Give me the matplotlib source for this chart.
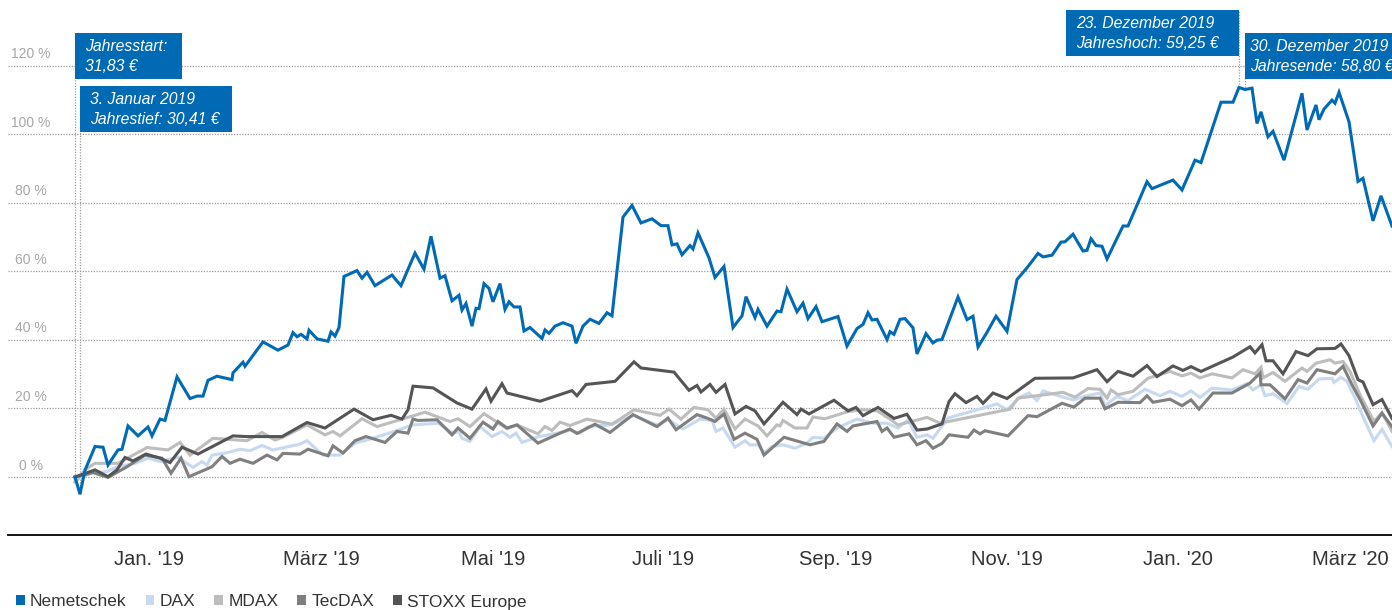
import matplotlib
matplotlib.use("Agg")
import matplotlib.pyplot as plt
from matplotlib.patches import Patch, Rectangle

plt.rcParams['font.family'] = ['Liberation Sans', 'DejaVu Sans']

# time index: 0 = start of 2019, one step is roughly three calendar days
nem_t = [0, 0.5, 1.0, 2.0, 2.8, 3.3, 4.3, 4.7, 5.3, 6.3,
         7.3, 7.7, 8.5, 9.0, 10.2, 11.5, 12.2, 12.8, 13.3, 14.2,
         15.7, 15.8, 16.8, 17.0, 18.8, 20.3, 21.3, 21.8, 22.2, 22.6,
         23.2, 23.4, 24.2, 25.3, 25.6, 26.0, 26.4, 26.9, 28.2, 28.7,
         29.2, 30.0, 31.7, 32.6, 34.0, 34.9, 35.6, 36.5, 37.0, 37.7,
         38.4, 38.7, 39.1, 39.7, 40.1, 40.4, 40.9, 41.4, 41.8, 42.5,
         43.0, 43.4, 43.9, 44.5, 44.9, 45.5, 46.7, 47.0, 47.4, 48.0,
         48.8, 49.7, 50.1, 50.8, 51.5, 52.4, 53.2, 53.7, 54.8, 55.7,
         56.6, 57.7, 58.6, 59.3, 59.7, 60.2, 60.7, 61.5, 61.8, 62.3,
         63.4, 64.0, 64.9, 65.8, 66.7, 67.1, 68.0, 68.3, 69.2, 70.2,
         70.6, 71.2, 72.2, 72.8, 73.3, 74.1, 74.7, 76.3, 77.2, 78.2,
         78.8, 79.3, 79.7, 80.2, 81.2, 81.5, 81.9, 82.5, 83.0, 83.8,
         84.2, 85.1, 85.8, 86.2, 86.7, 88.3, 89.2, 89.8, 90.3, 91.2,
         92.1, 93.2, 94.2, 95.2, 96.3, 96.8, 97.7, 98.6, 99.0, 99.8,
         100.8, 101.2, 101.6, 102.1, 102.7, 103.2, 104.8, 105.3, 107.2, 107.7,
         109.8, 110.7, 112.0, 112.6, 114.6, 115.8, 116.4, 117.0, 117.7, 118.2,
         118.6, 119.3, 119.8, 120.9, 122.7, 123.2, 124.1, 124.4, 124.9, 125.7,
         126.0, 126.4, 127.4, 128.3, 128.8, 129.8, 130.6, 131.7]
nem_v = [0, -5.0, 2.0, 8.9, 8.7, 3.5, 7.9, 8.1, 14.9, 12.0,
         14.6, 12.0, 16.9, 16.5, 29.2, 22.9, 23.6, 23.6, 28.2, 29.4,
         28.4, 30.4, 33.5, 32.3, 39.4, 37.0, 38.5, 42.1, 40.9, 41.6,
         40.3, 42.8, 40.3, 39.6, 42.3, 41.1, 43.6, 58.5, 60.2, 58.0,
         59.7, 55.8, 58.9, 55.8, 65.3, 60.6, 70.2, 58.0, 58.7, 51.4,
         53.0, 48.7, 50.6, 44.0, 49.2, 49.1, 56.4, 55.0, 51.1, 56.4,
         48.9, 51.1, 49.6, 49.6, 42.6, 43.6, 40.4, 42.9, 41.9, 44.0,
         45.0, 44.0, 39.0, 44.0, 46.0, 44.8, 47.9, 47.0, 75.8, 79.2,
         74.1, 75.3, 73.3, 73.3, 67.7, 68.0, 64.8, 67.5, 66.5, 71.2,
         63.9, 58.2, 61.4, 43.6, 47.0, 52.6, 46.5, 48.9, 44.0, 48.4,
         48.2, 54.8, 48.2, 50.7, 46.2, 49.7, 45.3, 46.8, 38.2, 43.3,
         44.5, 47.9, 45.8, 46.0, 40.1, 42.4, 41.6, 46.0, 46.2, 43.5,
         35.9, 41.8, 39.1, 39.9, 40.1, 52.5, 45.9, 46.9, 37.9, 42.2,
         46.9, 42.5, 57.6, 61.0, 65.2, 64.2, 64.7, 68.5, 68.6, 70.8,
         65.9, 66.1, 69.5, 67.5, 67.3, 63.6, 73.2, 73.2, 86.1, 84.1,
         86.6, 83.7, 92.4, 91.7, 109.3, 109.3, 113.6, 113.0, 113.4, 103.1,
         106.5, 99.2, 100.8, 92.4, 111.9, 101.2, 108.5, 104.2, 107.3, 109.9,
         109.0, 112.2, 103.6, 86.2, 87.1, 74.7, 82.0, 73.2]

dax_t = [0, 1.8, 3.2, 4.2, 6.0, 7.3, 8.5, 10.3, 11.8, 12.7,
         13.2, 13.7, 15.2, 16.5, 17.5, 18.7, 19.8, 22.5, 23.2, 24.8,
         26.5, 28.0, 29.8, 32.2, 33.8, 36.3, 37.8, 38.4, 38.7, 39.5,
         40.5, 41.7, 42.7, 43.5, 44.1, 44.7, 46.4, 48.2, 49.5, 50.5,
         51.3, 53.5, 55.9, 58.2, 59.3, 60.8, 62.5, 63.7, 64.1, 64.8,
         66.0, 67.0, 67.5, 68.3, 68.9, 69.7, 70.8, 72.0, 73.2, 73.8,
         74.9, 76.2, 78.2, 79.8, 81.2, 82.3, 83.3, 84.2, 85.2, 85.8,
         87.3, 92.2, 93.2, 94.5, 95.4, 96.2, 96.8, 98.0, 99.8, 101.2,
         102.5, 103.0, 104.2, 105.3, 107.0, 108.5, 109.5, 110.7, 111.6, 112.5,
         113.7, 115.7, 117.2, 117.8, 118.6, 119.0, 119.8, 121.2, 122.4, 123.3,
         124.4, 125.7, 125.9, 126.6, 127.2, 128.0, 128.8, 129.9, 130.7, 131.7]
dax_v = [-1.0, 1.3, 1.6, 3.0, 4.0, 5.5, 4.5, 5.8, 2.8, 4.5,
         3.5, 6.4, 7.1, 8.1, 7.7, 9.2, 7.9, 9.6, 10.6, 6.4,
         6.4, 9.9, 11.3, 13.6, 15.2, 15.7, 12.8, 13.3, 11.3, 10.4,
         14.7, 11.8, 13.3, 11.6, 12.8, 10.1, 11.8, 12.8, 13.6, 12.8,
         14.7, 15.2, 17.9, 15.2, 16.7, 14.0, 16.9, 16.5, 13.3, 14.3,
         8.7, 10.6, 9.4, 9.4, 7.1, 8.9, 9.4, 8.4, 9.9, 11.6,
         11.3, 14.3, 16.9, 15.7, 15.7, 14.3, 16.7, 11.6, 12.3, 11.3,
         17.2, 21.3, 19.6, 23.3, 24.5, 22.3, 25.1, 24.0, 22.5, 23.7,
         24.5, 20.8, 23.5, 22.3, 25.6, 23.7, 25.0, 23.5, 25.1, 23.2,
         25.9, 25.4, 27.2, 25.4, 26.9, 23.7, 24.3, 21.5, 26.4, 25.6,
         28.6, 28.8, 27.6, 29.1, 27.9, 23.0, 17.6, 10.6, 13.9, 8.9]

mdax_t = [0, 1.0, 2.0, 4.3, 7.2, 9.3, 10.5, 11.5, 13.8, 17.2,
          18.7, 20.0, 20.8, 23.2, 25.0, 25.8, 26.5, 28.7, 30.2, 35.0,
          37.5, 38.3, 39.5, 40.9, 43.2, 44.2, 46.3, 47.0, 47.7, 48.5,
          49.5, 51.2, 53.7, 55.9, 58.5, 59.4, 60.6, 61.9, 63.3, 64.1,
          64.9, 66.0, 67.0, 68.3, 69.2, 70.2, 70.5, 70.8, 72.0, 73.2,
          73.8, 75.0, 77.3, 78.8, 80.2, 81.6, 82.3, 83.4, 85.2, 86.5,
          93.5, 94.3, 98.8, 100.0, 101.3, 102.5, 103.2, 103.6, 104.3, 105.8,
          107.3, 109.5, 110.7, 111.6, 112.5, 113.7, 115.7, 116.8, 118.0, 118.6,
          118.8, 119.8, 121.0, 122.7, 123.2, 124.1, 125.5, 126.0, 126.8, 127.5,
          128.5, 129.9, 130.7, 131.7]
mdax_v = [-1.5, 2.1, 4.0, 4.0, 8.6, 7.9, 10.1, 6.4, 11.3, 10.6,
          13.0, 10.8, 11.6, 15.2, 12.3, 13.3, 12.0, 17.0, 14.7, 18.9,
          16.2, 17.0, 14.7, 18.5, 14.1, 15.2, 12.6, 14.7, 13.6, 16.0,
          15.0, 16.9, 15.4, 19.6, 18.0, 19.8, 16.9, 20.3, 19.6, 17.2,
          19.8, 14.0, 16.9, 14.9, 12.0, 15.2, 14.9, 16.5, 14.3, 14.3,
          17.5, 17.0, 19.1, 19.6, 19.3, 16.7, 15.2, 16.0, 17.4, 15.7,
          19.8, 23.0, 24.7, 23.3, 25.8, 25.6, 23.0, 25.4, 24.0, 25.0,
          28.8, 30.8, 29.5, 30.3, 28.9, 30.1, 28.9, 31.3, 30.1, 32.0,
          28.9, 30.5, 27.9, 31.8, 30.8, 33.2, 34.2, 33.2, 33.7, 30.8,
          24.0, 16.2, 18.8, 13.3]

tec_t = [0, 1.8, 3.3, 5.2, 7.0, 8.7, 9.6, 10.6, 11.4, 13.7,
         14.7, 15.5, 16.5, 17.8, 19.2, 20.2, 20.8, 22.5, 23.3, 25.3,
         25.8, 26.8, 28.0, 29.1, 31.0, 32.2, 33.3, 33.8, 34.3, 36.2,
         37.7, 38.3, 39.5, 40.8, 41.8, 42.3, 43.2, 44.2, 46.3, 48.5,
         49.5, 50.2, 52.0, 53.5, 55.8, 58.2, 59.3, 60.1, 62.2, 63.2,
         64.0, 64.9, 65.9, 67.0, 68.2, 68.9, 70.9, 73.5, 74.9, 76.2,
         77.2, 77.8, 80.2, 80.7, 81.2, 81.9, 83.4, 84.2, 85.1, 85.8,
         86.7, 87.4, 89.3, 89.9, 90.5, 91.0, 93.3, 95.3, 96.2, 98.7,
         99.9, 101.0, 102.5, 103.0, 104.3, 106.5, 107.2, 107.8, 109.5, 110.7,
         111.6, 112.4, 113.8, 115.7, 117.5, 118.5, 118.6, 119.5, 121.0, 122.3,
         123.2, 124.2, 126.0, 126.8, 127.7, 128.7, 129.8, 130.7, 131.7]
tec_v = [0, 1.3, -0.1, 3.0, 6.4, 5.5, 1.1, 5.5, 0.1, 3.0,
         6.0, 4.0, 5.2, 4.0, 6.4, 5.0, 6.9, 6.7, 8.1, 6.2,
         9.1, 7.0, 10.6, 11.8, 10.1, 13.3, 12.8, 16.9, 16.5, 16.7,
         12.3, 14.3, 11.3, 16.0, 14.0, 16.2, 14.3, 15.2, 9.9, 12.8,
         14.0, 12.7, 15.4, 13.0, 18.2, 14.7, 17.2, 13.8, 18.2, 17.2,
         16.2, 18.4, 11.0, 12.8, 11.0, 6.4, 11.6, 9.4, 10.4, 15.5,
         13.3, 14.9, 16.2, 13.3, 14.3, 11.6, 12.6, 9.4, 10.6, 8.4,
         9.8, 12.3, 11.6, 13.7, 12.6, 13.5, 12.0, 17.9, 17.6, 21.5,
         20.4, 23.0, 23.0, 19.9, 21.8, 21.7, 23.7, 21.8, 22.7, 20.8,
         22.5, 19.8, 24.5, 24.5, 27.4, 30.3, 26.9, 26.9, 22.8, 28.4,
         27.4, 31.3, 30.1, 32.3, 26.9, 21.5, 14.9, 18.6, 14.7]

stoxx_t = [0, 2.0, 3.3, 4.2, 5.0, 5.8, 7.1, 8.5, 9.5, 10.7,
           12.3, 15.8, 17.2, 20.7, 23.2, 25.0, 27.9, 29.8, 31.6, 32.7,
           33.3, 33.8, 35.8, 38.2, 39.7, 41.1, 41.6, 42.7, 43.2, 46.5,
           49.7, 50.2, 51.1, 54.0, 55.9, 56.6, 59.9, 61.4, 62.2, 62.6,
           63.5, 64.1, 65.0, 66.0, 67.1, 68.0, 68.9, 70.8, 72.2, 72.6,
           73.4, 75.9, 77.3, 78.1, 78.8, 80.3, 81.9, 83.2, 84.2, 85.2,
           86.7, 87.4, 88.0, 89.1, 90.2, 90.8, 91.8, 93.2, 96.0, 99.8,
           102.2, 103.2, 104.3, 105.8, 107.2, 108.2, 109.8, 110.8, 111.6, 112.6,
           115.8, 117.5, 118.0, 118.7, 119.1, 119.8, 120.8, 122.1, 123.3, 124.2,
           126.0, 126.6, 127.4, 128.3, 128.8, 129.8, 130.7, 131.7]
stoxx_v = [0, 2.1, 0.1, 2.1, 5.7, 4.7, 6.7, 5.5, 4.2, 8.7,
           6.7, 12.0, 11.8, 11.8, 15.9, 14.3, 19.8, 16.7, 18.0, 16.9,
           19.6, 26.5, 26.0, 21.6, 19.8, 25.7, 22.1, 27.2, 24.5, 22.1,
           25.2, 23.7, 27.0, 27.9, 33.6, 31.8, 30.6, 25.3, 26.7, 24.8,
           27.0, 24.7, 27.0, 18.4, 20.6, 19.3, 15.5, 21.8, 18.2, 19.8,
           18.4, 22.4, 19.3, 20.3, 17.9, 20.3, 17.1, 18.3, 13.7, 14.0,
           15.5, 22.0, 24.3, 21.7, 23.5, 21.5, 24.5, 22.9, 28.8, 28.9,
           31.3, 27.8, 30.8, 29.4, 32.5, 29.3, 32.4, 31.1, 32.2, 30.8,
           35.0, 38.0, 36.2, 38.6, 33.9, 33.9, 30.1, 36.6, 35.4, 37.4,
           37.5, 38.8, 35.4, 28.4, 27.7, 21.1, 22.6, 17.1]

month_pos = [7.4, 24.6, 41.8, 58.8, 76.1, 93.2, 110.3, 127.5]
month_labels = ["Jan. '19", "März '19", "Mai '19", "Juli '19",
                "Sep. '19", "Nov. '19", "Jan. '20", "März '20"]
y_ticks = [0, 20, 40, 60, 80, 100, 120]

# annotated events: position on the Nemetschek line and box text
event_t = [0.0, 0.5, 116.4, 117.0]
event_v = [0.0, -5.0, 113.6, 113.0]
event_text = [("Jahresstart:", "31,83 €"),
              ("3. Januar 2019", "Jahrestief: 30,41 €"),
              ("23. Dezember 2019", "Jahreshoch: 59,25 €"),
              ("30. Dezember 2019", "Jahresende: 58,80 €")]

BLUE = '#006ab4'
series = [("DAX", dax_t, dax_v, '#c6d9ef'),
          ("MDAX", mdax_t, mdax_v, '#bdbdbd'),
          ("TecDAX", tec_t, tec_v, '#7f7f7f'),
          ("STOXX Europe", stoxx_t, stoxx_v, '#555555'),
          ("Nemetschek", nem_t, nem_v, BLUE)]

W, H = 1392, 610
fig = plt.figure(figsize=(W / 100, H / 100), dpi=100)
ax = fig.add_axes([8 / W, (H - 535) / H, 1 - 8 / W, 535 / H])
ax.set_xlim(-6.7, 131.7)
ax.set_ylim(-16.9, 139.1)

for name, t, v, c in series:
    ax.plot(t, v, color=c, lw=2.2, solid_joinstyle='miter', zorder=3)

# dotted grid + labels sitting above the lines
for y in y_ticks:
    ax.axhline(y, color='#9c9c9c', lw=0.9, ls=(0, (1, 1.2)), zorder=1)
    ax.text(0.0165, y + 1.3, "%d %%" % y, transform=ax.get_yaxis_transform(),
            ha='center', va='bottom', fontsize=10, color='#a6a6a6')

ax.set_yticks([])
ax.set_xticks(month_pos, month_labels)
ax.tick_params(axis='x', length=0, pad=11, labelsize=14.5, labelcolor='#333333')
for s in ['top', 'left', 'right']:
    ax.spines[s].set_visible(False)
ax.spines['bottom'].set_color('black')
ax.spines['bottom'].set_linewidth(1.3)

# annotation boxes (pixel layout: top edge, width, box side relative to event)
box_top = [33, 86, 10, 33]
box_w = [107, 152, 173, 150]
box_side = ['right', 'right', 'left', 'right']
box_pad = [10, 10, 10, 5]
box_h = 46
y0, y1 = ax.get_ylim()
for i in range(4):
    ex = ax.transData.transform((event_t[i], 0))[0]
    left = ex if box_side[i] == 'right' else ex - box_w[i]
    top_frac = (535 - box_top[i]) / 535
    ax.plot([event_t[i], event_t[i]], [event_v[i], y0 + top_frac * (y1 - y0)],
            color='#9c9c9c', lw=0.9, ls=(0, (1, 1.2)), zorder=2, clip_on=False)
    fig.patches.append(Rectangle((left / W, 1 - (box_top[i] + box_h) / H),
                                 box_w[i] / W, box_h / H, transform=fig.transFigure,
                                 facecolor=BLUE, edgecolor='none', zorder=5))
    for k, line in enumerate(event_text[i]):
        fig.text((left + box_pad[i]) / W, 1 - (box_top[i] + 18 + 20 * k) / H, line,
                 color='white', fontsize=11.3, style='italic', va='baseline',
                 ha='left', zorder=6)

handles = [Patch(facecolor=c, edgecolor='none') for name, t, v, c in
           [series[4]] + series[:4]]
labels = ["Nemetschek", "DAX", "MDAX", "TecDAX", "STOXX Europe"]
fig.legend(handles, labels, loc='center left', bbox_to_anchor=(16 / W, 1 - 602 / H),
           ncol=5, frameon=False, fontsize=12.5, handlelength=0.5, handleheight=0.5,
           handletextpad=0.3, columnspacing=1.1, borderaxespad=0, borderpad=0,
           labelcolor='#333333')

fig.savefig("out.png", dpi=100)
